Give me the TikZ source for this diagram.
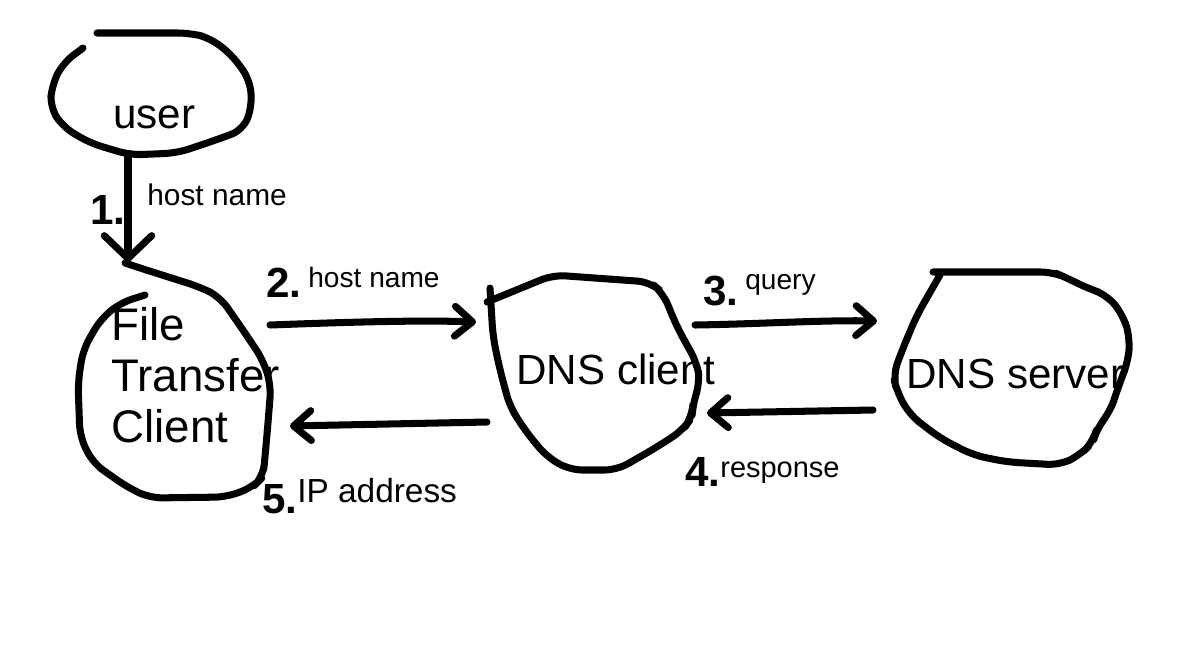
\documentclass[tikz,border=0pt]{standalone}
\usepackage{fontspec}
\setmainfont{Liberation Sans}
\usetikzlibrary{arrows.meta}
\tikzset{
  blob/.style={line width=4pt,line cap=round,line join=round,rounded corners=7pt},
  lbl/.style={font=\fontsize{24}{29}\selectfont,align=left,inner sep=0pt},
  small/.style={font=\fontsize{16}{19}\selectfont,inner sep=0pt},
  num/.style={font=\bfseries\fontsize{24}{28}\selectfont,inner sep=0pt},
  arr/.style={line width=4pt,line cap=round,-{Straight Barb[length=10pt,width=17pt,round]}},
}

\begin{document}
\begin{tikzpicture}[x=0.02cm,y=-0.02cm]
\useasboundingbox (0,0) rectangle (1184,650);

% the four parties
\node[lbl,anchor=base west] (user) at (113,128) {user};
\node[lbl,anchor=west,font=\fontsize{26}{29}\selectfont] (ftc) at (111,375) {File\\Transfer\\Client};
\node[lbl,anchor=base west] (dnsc) at (516,384) {DNS client};
\node[lbl,anchor=base west] (dnss) at (906,388) {DNS server};

% hand drawn outlines
\draw[blob] (97,33) -- (190,33) -- (210,38) -- (232,55) -- (250,80) -- (252,107) -- (243,130)
  -- (213,141) -- (177,153) -- (130,155) -- (90,143) -- (63,127) -- (50,107) -- (52,85)
  -- (63,63) -- (83,48);
\draw[blob] (125,263) -- (140,268) -- (200,287) -- (220,297) -- (243,330) -- (263,360)
  -- (271,385) -- (268,423) -- (265,457) -- (263,477) -- (253,487) -- (227,497) -- (150,498)
  -- (127,487) -- (93,463) -- (80,437) -- (78,383) -- (83,350) -- (100,320) -- (120,303) -- (145,295);
\draw[blob] (490,288) -- (493,337) -- (500,370) -- (510,407) -- (527,433) -- (547,457)
  -- (570,470) -- (617,470) -- (657,447) -- (683,430) -- (692,417) -- (693,403) -- (700,383)
  -- (697,363) -- (677,327) -- (663,293) -- (650,282) -- (553,275) -- (487,302);
\draw[blob] (933,272) -- (1053,272) -- (1067,278) -- (1087,288) -- (1107,295) -- (1123,315)
  -- (1130,338) -- (1128,362) -- (1120,382) -- (1110,412) -- (1097,428) -- (1093,442)
  -- (1080,455) -- (1060,465) -- (1007,462) -- (973,455) -- (940,438) -- (910,415)
  -- (897,392) -- (893,375) -- (903,348) -- (917,315) -- (940,275);

% arrow ends on the outlines
\coordinate (user-s) at (128,156);
\coordinate (ftc-n) at (128,262);
\coordinate (ftc-e) at (270,325);
\coordinate (dnsc-w) at (476,322);
\coordinate (dnsc-e) at (695,325);
\coordinate (dnss-w) at (877,321);
\coordinate (dnss-w2) at (873,410);
\coordinate (dnsc-e2) at (707,413);
\coordinate (dnsc-w2) at (487,422);
\coordinate (ftc-e2) at (290,426);

\draw[arr,-{Straight Barb[length=13pt,width=27pt,round]}] (user-s) -- (ftc-n);
\draw[arr] (ftc-e) .. controls (350,322) and (420,320) .. (dnsc-w);
\draw[arr] (dnsc-e) .. controls (760,324) and (820,320) .. (dnss-w);
\draw[arr] (dnss-w2) -- (dnsc-e2);
\draw[arr] (dnsc-w2) -- (ftc-e2);

% step numbers and messages
\node[num,anchor=base west] (n1) at (90,224) {1.};
\node[small,anchor=base west,font=\fontsize{17}{20}\selectfont] (m1) at (147,205) {host name};
\node[num,anchor=base west] (n2) at (266,297) {2.};
\node[small,anchor=base west] (m2) at (308,287) {host name};
\node[num,anchor=base west] (n3) at (703,305) {3.};
\node[small,anchor=base west] (m3) at (745,289) {query};
\node[num,anchor=base west] (n4) at (685,486) {4.};
\node[small,anchor=base west,font=\fontsize{16.5}{19}\selectfont] (m4) at (720,477) {response};
\node[num,anchor=base west] (n5) at (262,513) {5.};
\node[small,anchor=base west,font=\fontsize{19}{22}\selectfont] (m5) at (297,502) {IP address};
\end{tikzpicture}
\end{document}
